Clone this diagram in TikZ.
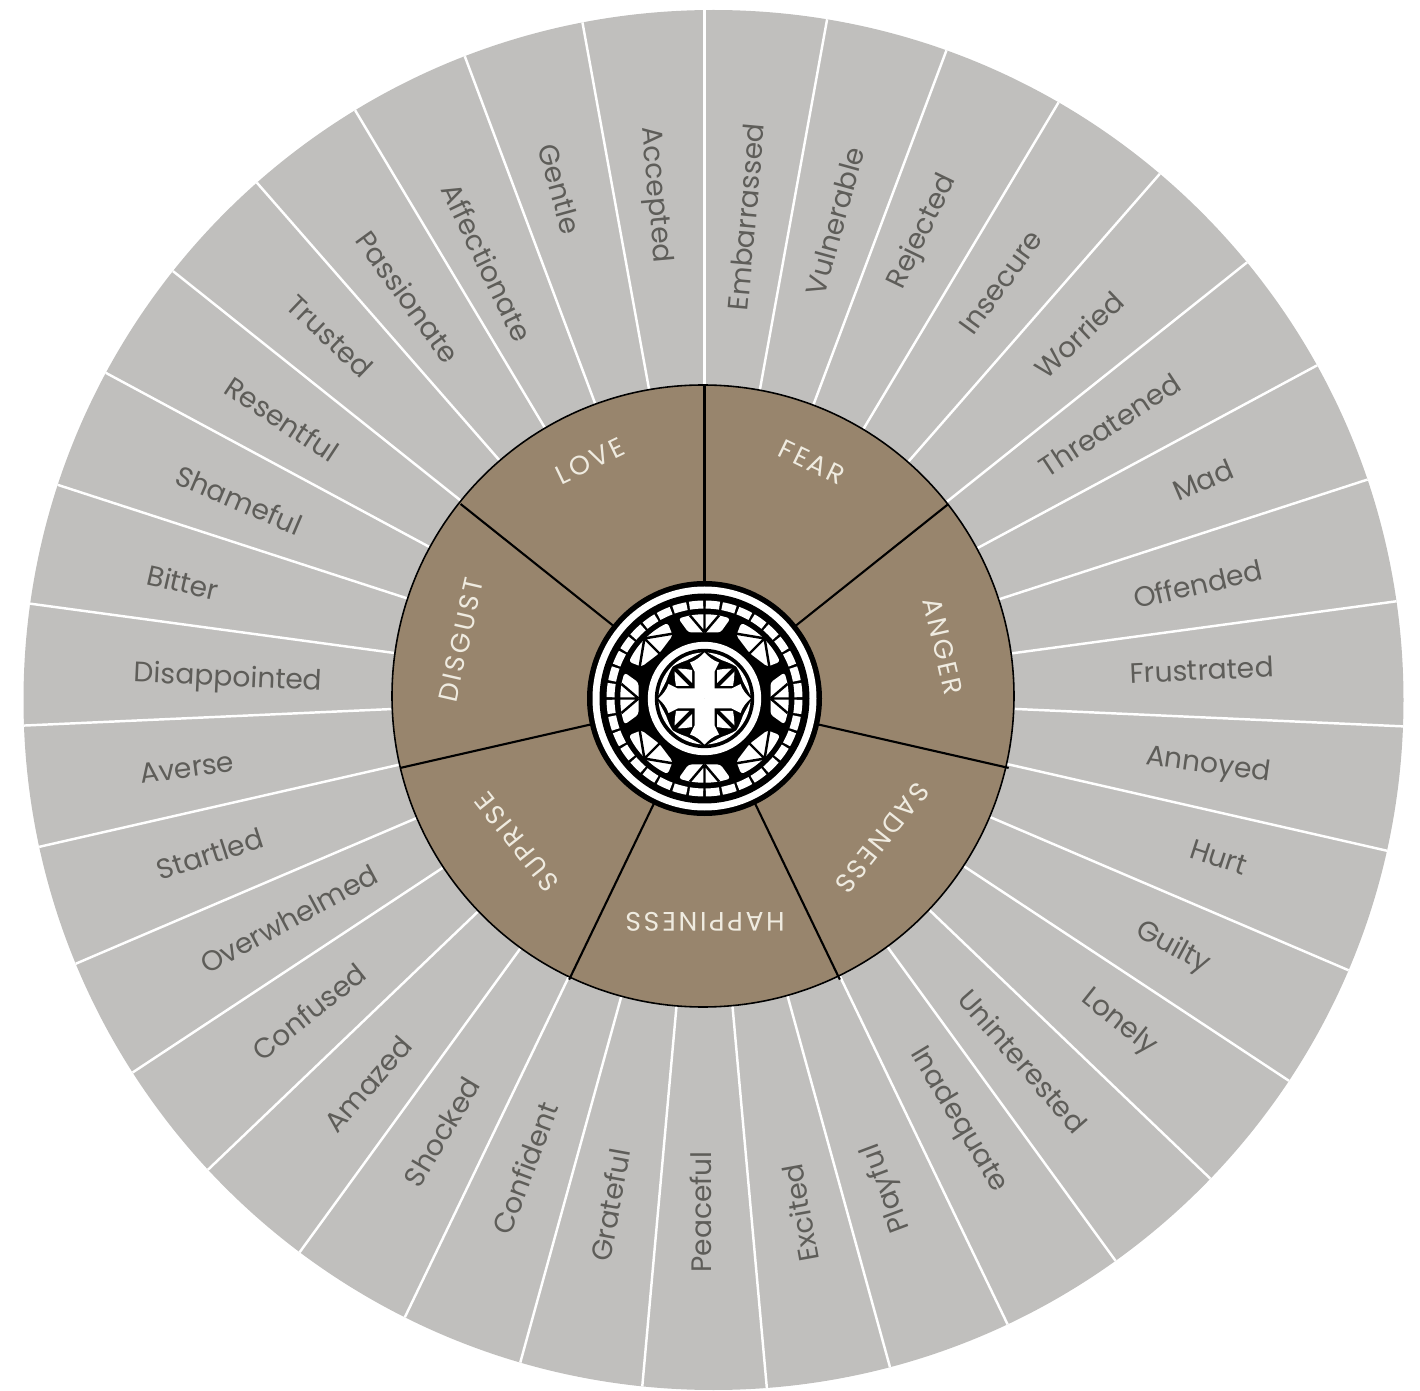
\documentclass[tikz,border=0pt]{standalone}
\usepackage{fontspec}
\setmainfont{Poppins}
\newfontfamily\sectorfont[LetterSpace=10]{Poppins}
\definecolor{wheelgray}{HTML}{C0BFBD}
\definecolor{wheelbrown}{HTML}{98856D}
\definecolor{wordgray}{HTML}{5E5D59}
\definecolor{cream}{HTML}{EFEBE0}
\begin{document}
\begin{tikzpicture}[x=0.01cm,y=0.01cm,
  wordlabel/.style={text=wordgray,font=\fontsize{8}{10}\selectfont,inner sep=0pt},
  sectorlabel/.style={text=cream,font=\fontsize{7.6}{10}\sectorfont,inner sep=0pt},
  spoke/.style={white,line width=0.7pt},
  divider/.style={black,line width=0.6pt},
  fanline/.style={black,line width=0.7pt}]
\useasboundingbox (0,0) rectangle (1420,-1391);
\coordinate (rim) at (713.5,-700);
\coordinate (disc) at (703,-696);
\coordinate (fork) at (704.5,-695);
\coordinate (hub) at (704.5,-698.5);
\fill[wheelgray] (rim) circle[radius=690];
\begin{scope}
\clip (rim) circle[radius=690];
\foreach \k in {0,...,34}{\draw[spoke] (fork) -- ++({90-\k*360/35}:720);}
\end{scope}
\fill[wheelbrown] (disc) circle[radius=311];
\draw[black,line width=0.45pt] (disc) circle[radius=311];
\foreach \k in {0,...,6}{\draw[divider] (hub) -- ++({90-\k*360/7}:312);}
\foreach \word/\wx/\wy [count=\i from 0] in {Embarrassed/746/217,Vulnerable/835/221,Rejected/923/232,Insecure/1001/282,Worried/1079/335,Threatened/1110/425,Mad/1203/480,Offended/1198/584,Frustrated/1202/670,Annoyed/1208/766,Hurt/1219/857,Guilty/1173/948,Lonely/1119/1023,Uninterested/1023/1061,Inadequate/958/1120,Playful/887/1188,Excited/800/1213,Peaceful/701/1212,Grateful/610/1205,Confident/525/1168,Shocked/442/1132,Amazed/368/1084,Confused/309/1012,Overwhelmed/289/919,Startled/210/854,Averse/187/768,Disappointed/228/679,Bitter/183/582,Shameful/239/500,Resentful/282/419,Trusted/330/336,Passionate/408/297,Affectionate/487/262,Gentle/560/189,Accepted/655/195}{
  \pgfmathsetmacro{\wrot}{\i<15 ? 90-(\i+0.5)*360/35 : 270-(\i+0.5)*360/35}
  \node[wordlabel,rotate=\wrot] (w\i) at (\wx,-\wy) {\word};
}
\foreach \word/\wx/\wy/\wrot in {FEAR/812/462/-25.7,ANGER/943/646/-77.1,SADNESS/882/838/-128.6,HAPPINESS/705/922/180,SUPRISE/517/842/128.6,DISGUST/461/640/77.1,LOVE/590/461/25.7}{
  \node[sectorlabel,rotate=\wrot] (s\word) at (\wx,-\wy) {\word};
}
\begin{scope}[shift={(hub)}]
\fill[black] (0,0) circle[radius=117.5];
\fill[white] (0,0) circle[radius=112];
\fill[black] (0,0) circle[radius=105];
\foreach \k in {0,...,35}{\draw[white,line width=0.08cm] ({\k*10+0.8}:94) arc[start angle={\k*10+0.8},end angle={\k*10+9.2},radius=94];}
\foreach \a in {0,90,180,270}{
  \begin{scope}[rotate=\a]
  \fill[white,rounded corners=0.03cm] (-16,66) -- (-26,79.9) arc[start angle=108,end angle=72,radius=84] -- (16,66) -- cycle;
  \draw[fanline] (0,66) -- (0,85) (0,66) -- (-14.5,83) (0,66) -- (14.5,83);
  \end{scope}
  \begin{scope}[rotate=\a+45]
  \fill[white,rounded corners=0.03cm] (-22,67) -- (-27.5,79.4) arc[start angle=109.1,end angle=70.9,radius=84] -- (22,67) -- (0,64) -- cycle;
  \draw[fanline] (0,85) -- (0,63) (0,85) -- (-24.5,67.5) (0,85) -- (24.5,67.5);
  \end{scope}
}
\fill[white] (0,0) circle[radius=56.7];
\fill[black] (0,0) circle[radius=49.7];
\foreach \a in {0,90,180,270}{
  \begin{scope}[rotate=\a]
  \fill[white] (-10,0) -- (-10,27) -- (-14.5,36) .. controls (-8,38) and (-4,42) .. (0,46) .. controls (4,42) and (8,38) .. (14.5,36) -- (10,27) -- (10,0) -- cycle;
  \fill[white] (15.5,12.5) -- (28.5,12.5) -- (29.5,19) -- (30,27) -- cycle;
  \fill[white] (12.5,15.5) -- (12.5,28.5) -- (19,29.5) -- (27,30) -- cycle;
  \fill[white] (32.5,31.5) .. controls (26,35.5) and (21,37) .. (17,38.5) .. controls (11,41.5) and (7,44) .. (3,45.9) arc[start angle=86,end angle=46,radius=46] -- cycle;
  \fill[white] (31.5,32.5) .. controls (35.5,26) and (37,21) .. (38.5,17) .. controls (41.5,11) and (44,7) .. (45.9,3) arc[start angle=4,end angle=44,radius=46] -- cycle;
  \end{scope}
}
\end{scope}
\end{tikzpicture}
\end{document}
